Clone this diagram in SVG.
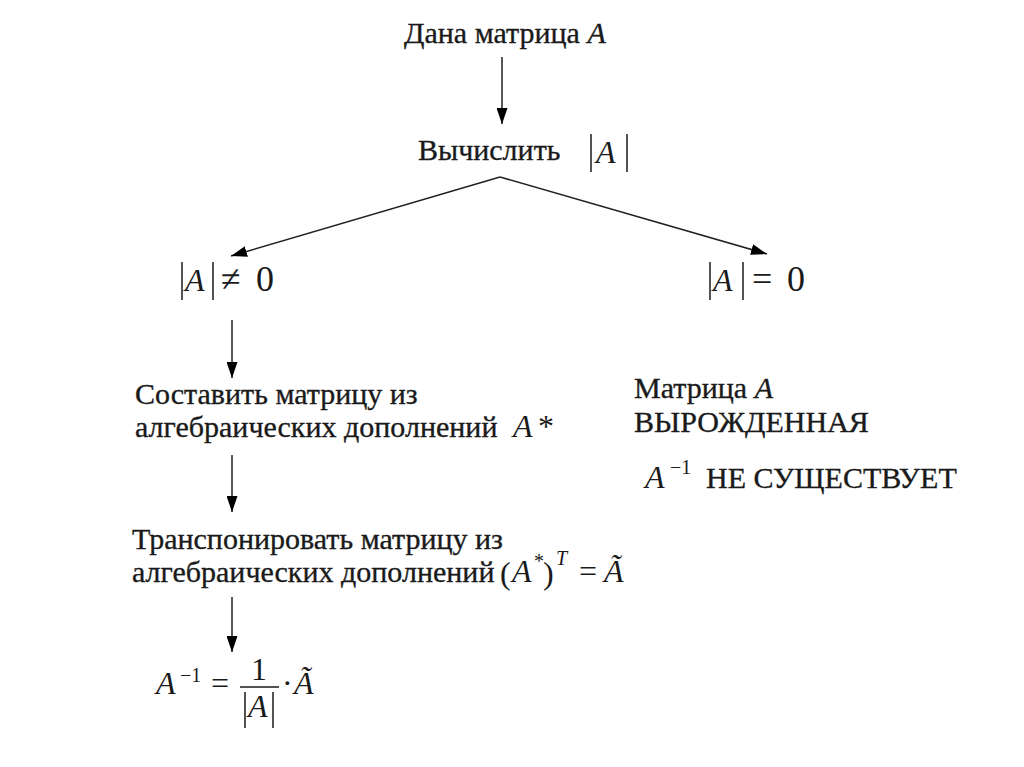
<svg xmlns="http://www.w3.org/2000/svg" width="1024" height="767" viewBox="0 0 1024 767">
<defs>
<marker id="ah" viewBox="0 0 16 11" refX="16" refY="5.5" markerWidth="16" markerHeight="11" markerUnits="userSpaceOnUse" orient="auto">
<path d="M0,0 L16,5.5 L0,11 z" fill="#000"/>
</marker>
</defs>
<style>
.t{font-family:"Liberation Serif","Times New Roman",serif;font-size:30px;fill:#1a1a1a;stroke:#1a1a1a;stroke-width:0.35}
.m{font-family:"Liberation Serif","Times New Roman",serif;font-size:32px;fill:#1a1a1a}
.n{font-size:36px}
.i{font-style:italic}
.sup{font-size:20px}
.bar{stroke:#1a1a1a;stroke-width:1.5;fill:none}
.c{stroke:#222;stroke-width:1.5;fill:none}
</style>
<rect width="1024" height="767" fill="#fff"/>
<g id="connectors">
<line class="c" x1="502" y1="57" x2="502" y2="124" marker-end="url(#ah)"/>
<line class="c" x1="500" y1="177" x2="231" y2="256" marker-end="url(#ah)"/>
<line class="c" x1="500" y1="177" x2="767" y2="254" marker-end="url(#ah)"/>
<line class="c" x1="232" y1="320" x2="232" y2="378" marker-end="url(#ah)"/>
<line class="c" x1="232" y1="455" x2="232" y2="512" marker-end="url(#ah)"/>
<line class="c" x1="232" y1="597" x2="232" y2="652" marker-end="url(#ah)"/>
</g>
<g id="start">
<text class="t" x="404" y="43">Дана матрица <tspan class="i">A</tspan></text>
</g>
<g id="compute">
<text class="t" x="418" y="160">Вычислить</text>
<line class="bar" x1="591" y1="134" x2="591" y2="172"/>
<text class="m i" x="596" y="163" font-size="35">A</text>
<line class="bar" x1="627" y1="134" x2="627" y2="172"/>
</g>
<g id="nonzero">
<line class="bar" x1="182" y1="262" x2="182" y2="300"/>
<text class="m i" x="185" y="291" font-size="34">A</text>
<line class="bar" x1="213" y1="262" x2="213" y2="300"/>
<text class="m n" x="221" y="291">≠</text>
<text class="m n" x="256" y="291">0</text>
</g>
<g id="zero">
<line class="bar" x1="710" y1="262" x2="710" y2="300"/>
<text class="m i" x="713" y="291" font-size="34">A</text>
<line class="bar" x1="743" y1="262" x2="743" y2="300"/>
<text class="m n" x="752" y="291">=</text>
<text class="m n" x="787" y="291">0</text>
</g>
<g id="cofactors">
<text class="t" x="135" y="404">Составить матрицу из</text>
<text class="t" x="135" y="437">алгебраических дополнений</text>
<text class="m i" x="513" y="437">A</text>
<text class="m" x="538" y="437" font-size="26">*</text>
</g>
<g id="transpose">
<text class="t" x="132" y="549">Транспонировать матрицу из</text>
<text class="t" x="132" y="582">алгебраических дополнений</text>
<text class="m" x="500" y="584" font-size="42">(</text>
<text class="m i" x="512" y="582" font-size="31">A</text>
<text class="m sup" x="534" y="568">*</text>
<text class="m" x="543" y="584" font-size="42">)</text>
<text class="m i sup" x="556" y="565">T</text>
<text class="m" x="579" y="582">=</text>
<text class="m i" x="604" y="582">Ã</text>
</g>
<g id="inverse">
<text class="m i" x="156" y="694">A</text>
<text class="m sup" x="180" y="682">−1</text>
<text class="m" x="211" y="694">=</text>
<text class="m" x="251" y="680">1</text>
<line class="bar" x1="240" y1="687" x2="279" y2="687"/>
<line class="bar" x1="245" y1="692" x2="245" y2="728"/>
<text class="m i" x="248" y="717">A</text>
<line class="bar" x1="273" y1="692" x2="273" y2="728"/>
<text class="m" x="282" y="694">·</text>
<text class="m i" x="294" y="694">Ã</text>
</g>
<g id="singular">
<text class="t" x="634" y="398">Матрица <tspan class="i">A</tspan></text>
<text class="t" x="634" y="432">ВЫРОЖДЕННАЯ</text>
<text class="m i" x="645" y="488">A</text>
<text class="m sup" x="670" y="474">−1</text>
<text class="t" x="706" y="488">НЕ СУЩЕСТВУЕТ</text>
</g>
</svg>
